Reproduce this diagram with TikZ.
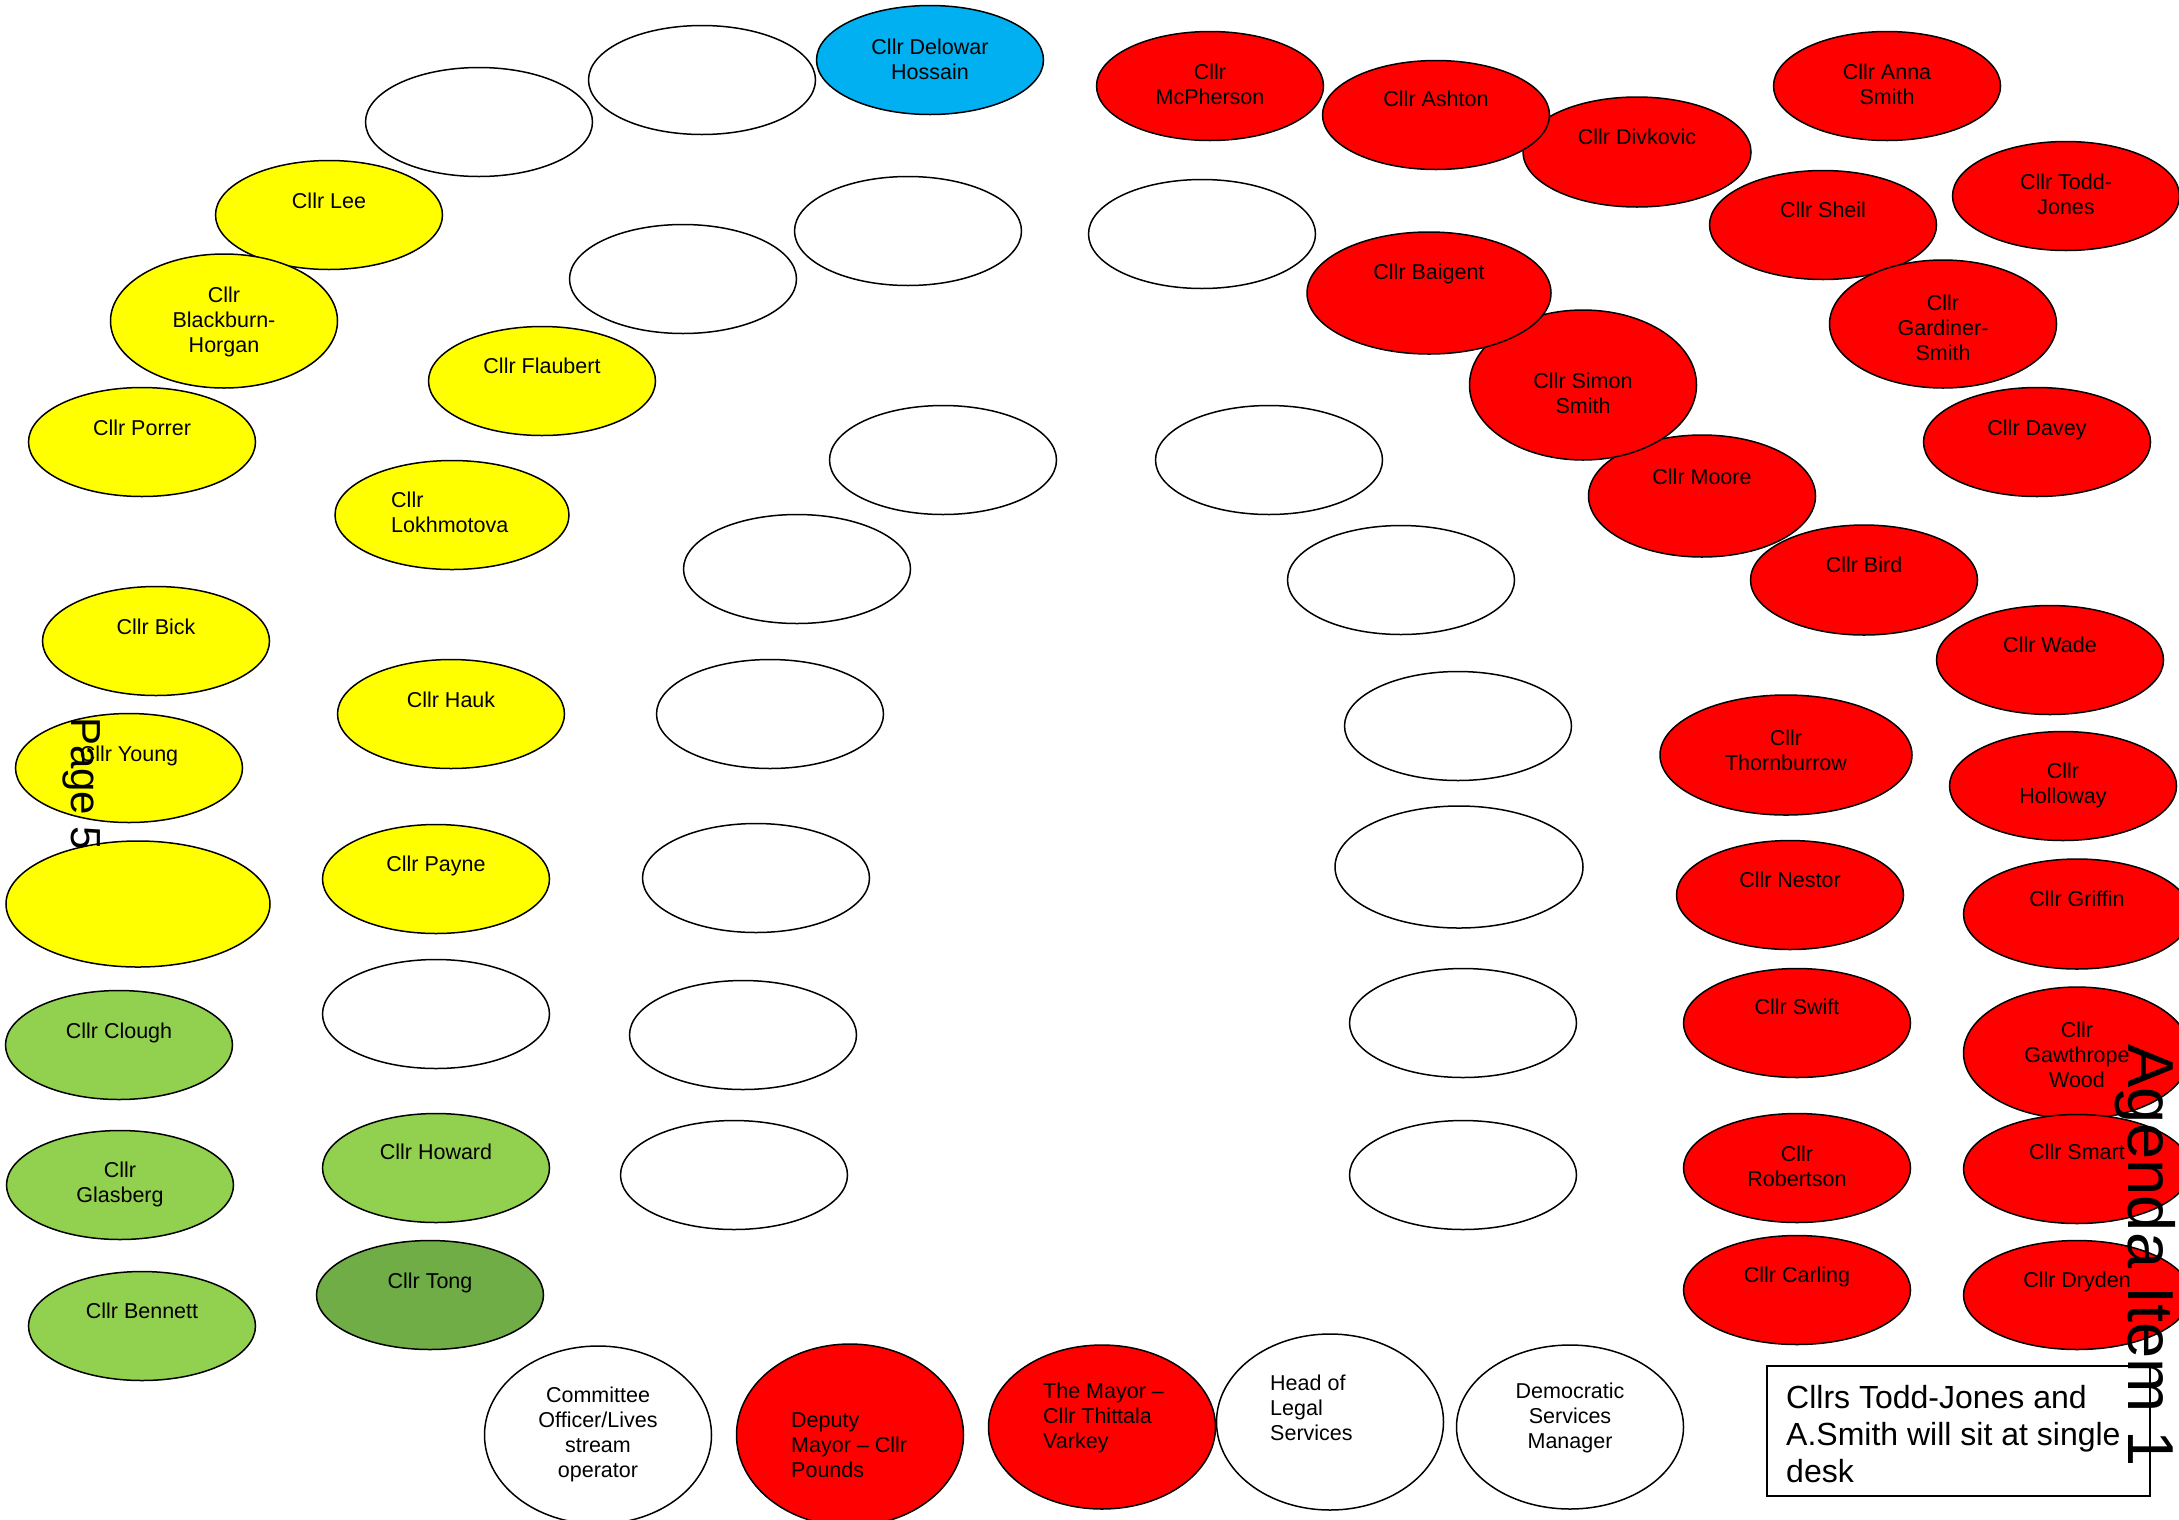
\documentclass[tikz,border=0pt]{standalone}
\usepackage{fontspec}
\setmainfont{Liberation Sans}
\usetikzlibrary{shapes.geometric}
\definecolor{cyel}{HTML}{FFFF00}
\definecolor{cred}{HTML}{FF0000}
\definecolor{cblue}{HTML}{00B0F0}
\definecolor{cgrn}{HTML}{92D050}
\definecolor{cdgrn}{HTML}{70AD47}
\begin{document}
\begin{tikzpicture}[x=1pt,y=-1pt,
  seat/.style={ellipse, draw=black, line width=1.5pt, fill=white, inner sep=0pt,
    minimum width=227pt, minimum height=109pt},
  yel/.style={seat, fill=cyel},
  red/.style={seat, fill=cred},
  grn/.style={seat, fill=cgrn},
  lbl/.style={inner sep=0pt, align=center, font=\fontsize{21.5pt}{25pt}\selectfont},
  lbll/.style={lbl, align=left, anchor=west},
  note/.style={draw=black, line width=1.5pt, fill=white}]
\useasboundingbox (0,0) rectangle (2179,1519);
\fill[white] (0,0) rectangle (2179,1519);
% empty white seats
\node[seat] (w1) at (479,122) {};
\node[seat] (w2) at (702,80) {};
\node[seat] (w3) at (908,231) {};
\node[seat] (w4) at (683,279) {};
\node[seat] (w5) at (1202,234) {};
\node[seat] (w6) at (943,460) {};
\node[seat] (w7) at (1269,460) {};
\node[seat] (w8) at (797,569) {};
\node[seat] (w9) at (1401,580) {};
\node[seat] (w10) at (770,714) {};
\node[seat] (w11) at (1458,726) {};
\node[seat] (w12) at (756,878) {};
\node[seat, minimum width=248pt, minimum height=122pt] (w13) at (1459,867) {};
\node[seat] (w14) at (436,1014) {};
\node[seat] (w15) at (743,1035) {};
\node[seat] (w16) at (1463,1023) {};
\node[seat] (w17) at (734,1175) {};
\node[seat] (w18) at (1463,1175) {};
% yellow
\node[yel] (lee) at (329,215) {};
\node[yel, minimum height=134pt] (blackburn) at (224,321) {};
\node[yel] (porrer) at (142,442) {};
\node[yel] (flaubert) at (542,381) {};
\node[yel, minimum width=234pt] (lokh) at (452,515) {};
\node[yel] (bick) at (156,641) {};
\node[yel] (hauk) at (451,714) {};
\node[yel] (young) at (129,768) {};
\node[yel, minimum width=264pt, minimum height=126pt] (bigyel) at (138,904) {};
\node[yel] (payne) at (436,879) {};
% green
\node[grn] (clough) at (119,1045) {};
\node[grn] (glasberg) at (120,1185) {};
\node[grn] (bennett) at (142,1326) {};
\node[grn] (howard) at (436,1168) {};
\node[seat, fill=cdgrn] (tong) at (430,1295) {};
% blue
\node[seat, fill=cblue] (hossain) at (930,60) {};
% red
\node[red] (mcpherson) at (1210,86) {};
\node[red, minimum width=228pt, minimum height=110pt] (divkovic) at (1637,152) {};
\node[red] (ashton) at (1436,115) {};
\node[red] (annasmith) at (1887,86) {};
\node[red] (sheil) at (1823,225) {};
\node[red] (toddjones) at (2066,196) {};
\node[red, minimum height=128pt] (gardiner) at (1943,324) {};
\node[red] (davey) at (2037,442) {};
\node[red, minimum height=110pt] (bird) at (1864,580) {};
\node[red, minimum height=122pt] (moore) at (1702,496) {};
\node[red, minimum height=150pt] (simonsmith) at (1583,385) {};
\node[red, minimum width=244pt, minimum height=122pt] (baigent) at (1429,293) {};
\node[red] (wade) at (2050,660) {};
\node[red, minimum width=252pt, minimum height=120pt] (thornburrow) at (1786,755) {};
\node[red] (holloway) at (2063,786) {};
\node[red] (nestor) at (1790,895) {};
\node[red, minimum height=110pt] (griffin) at (2077,914) {};
\node[red] (swift) at (1797,1023) {};
\node[red, minimum height=132pt] (gawthrope) at (2077,1053) {};
\node[red] (robertson) at (1797,1168) {};
\node[red] (smart) at (2077,1169) {};
\node[red] (carling) at (1797,1290) {};
\node[red] (dryden) at (2077,1295) {};
\node[red, minimum height=182pt] (deputy) at (850,1435) {};
\node[red, minimum height=164pt] (mayor) at (1102,1427) {};
% bottom officers
\node[seat, minimum height=178pt] (committee) at (598,1435) {};
\node[seat, minimum height=176pt] (legal) at (1330,1422) {};
\node[seat, minimum height=164pt] (dsm) at (1570,1427) {};
% labels
\node[lbl] (t-lee) at (329,201) {Cllr Lee};
\node[lbl] (t-blackburn) at (224,322) {Cllr\\Blackburn-\\Horgan};
\node[lbl] (t-porrer) at (142,428) {Cllr Porrer};
\node[lbl] (t-flaubert) at (542,366) {Cllr Flaubert};
\node[lbll] (t-lokh) at (391,512) {Cllr\\Lokhmotova};
\node[lbl] (t-bick) at (156,627) {Cllr Bick};
\node[lbl] (t-hauk) at (451,700) {Cllr Hauk};
\node[lbl] (t-young) at (129,756) {Cllr Young};
\node[lbl] (t-payne) at (436,866) {Cllr Payne};
\node[lbl] (t-clough) at (119,1033) {Cllr Clough};
\node[lbl] (t-glasberg) at (120,1184) {Cllr\\Glasberg};
\node[lbl] (t-bennett) at (142,1311) {Cllr Bennett};
\node[lbl] (t-howard) at (436,1152) {Cllr Howard};
\node[lbl] (t-tong) at (430,1283) {Cllr Tong};
\node[lbl] (t-hossain) at (930,59) {Cllr Delowar\\Hossain};
\node[lbl] (t-mcpherson) at (1210,84) {Cllr\\McPherson};
\node[lbl] (t-ashton) at (1436,99) {Cllr Ashton};
\node[lbl] (t-divkovic) at (1637,137) {Cllr Divkovic};
\node[lbl] (t-annasmith) at (1887,84) {Cllr Anna\\Smith};
\node[lbl] (t-sheil) at (1823,210) {Cllr Sheil};
\node[lbl] (t-toddjones) at (2066,194) {Cllr Todd-\\Jones};
\node[lbl] (t-gardiner) at (1943,328) {Cllr\\Gardiner-\\Smith};
\node[lbl] (t-davey) at (2037,430) {Cllr Davey};
\node[lbl] (t-baigent) at (1429,274) {Cllr Baigent};
\node[lbl] (t-simonsmith) at (1583,393) {Cllr Simon\\Smith};
\node[lbl] (t-moore) at (1702,477) {Cllr Moore};
\node[lbl] (t-bird) at (1864,565) {Cllr Bird};
\node[lbl] (t-wade) at (2050,645) {Cllr Wade};
\node[lbl] (t-thornburrow) at (1786,750) {Cllr\\Thornburrow};
\node[lbl] (t-holloway) at (2063,785) {Cllr\\Holloway};
\node[lbl] (t-nestor) at (1790,880) {Cllr Nestor};
\node[lbl] (t-griffin) at (2077,899) {Cllr Griffin};
\node[lbl] (t-swift) at (1797,1007) {Cllr Swift};
\node[lbl] (t-gawthrope) at (2077,1055) {Cllr\\Gawthrope\\Wood};
\node[lbl] (t-robertson) at (1797,1166) {Cllr\\Robertson};
\node[lbl] (t-smart) at (2077,1152) {Cllr Smart};
\node[lbl] (t-carling) at (1797,1277) {Cllr Carling};
\node[lbl] (t-dryden) at (2077,1282) {Cllr Dryden};
\node[lbll] (t-deputy) at (791,1445) {Deputy\\Mayor – Cllr\\Pounds};
\node[lbll] (t-mayor) at (1043,1418) {The Mayor –\\Cllr Thittala\\Varkey};
\node[lbl] (t-committee) at (598,1434) {Committee\\Officer/Lives\\stream\\operator};
\node[lbll] (t-legal) at (1270,1408) {Head of\\Legal\\Services};
\node[lbl] (t-dsm) at (1570,1418) {Democratic\\Services\\Manager};
% note box
\draw[note] (1767,1366) rectangle (2150,1496);
\node[lbl, align=left, anchor=west, font=\fontsize{32pt}{37pt}\selectfont] (notetext) at (1786,1434)
  {Cllrs Todd-Jones and\\A.Smith will sit at single\\desk};
% page stamps
\node[rotate=-90, anchor=base west, inner sep=0pt, font=\fontsize{42pt}{48pt}\selectfont] (page) at (71,717) {Page 5};
\node[rotate=-90, anchor=base west, inner sep=0pt, font=\fontsize{65pt}{72pt}\selectfont] (agenda) at (2128,1044) {Agenda Item 1};
\end{tikzpicture}
\end{document}
